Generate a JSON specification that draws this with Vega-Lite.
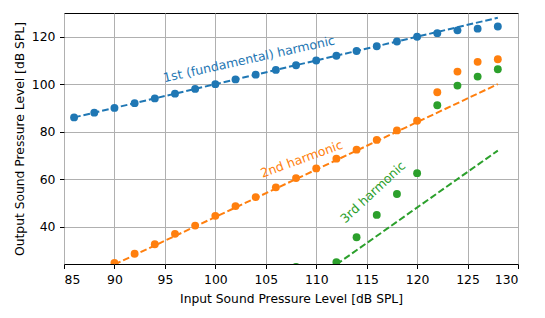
{
  "$schema": "https://vega.github.io/schema/vega-lite/v6.json",
  "width": 454,
  "height": 251,
  "autosize": {"type": "none"},
  "padding": {"left": 64, "top": 13, "right": 27, "bottom": 54},
  "config": {
    "font": "DejaVu Sans",
    "view": {"stroke": "black", "strokeWidth": 1},
    "axis": {
      "domain": false,
      "grid": true,
      "gridColor": "#b0b0b0",
      "gridWidth": 1,
      "tickColor": "black",
      "tickSize": 4.5,
      "tickWidth": 1,
      "labelPadding": 4.5,
      "labelFontSize": 12.4,
      "labelColor": "black",
      "titleFontSize": 12.3,
      "titleFontWeight": "normal",
      "titleColor": "black"
    }
  },
  "datasets": {
    "points": [
      {"input": 86, "output": 86, "harmonic": "1st"},
      {"input": 88, "output": 88, "harmonic": "1st"},
      {"input": 90, "output": 90, "harmonic": "1st"},
      {"input": 92, "output": 92, "harmonic": "1st"},
      {"input": 94, "output": 94, "harmonic": "1st"},
      {"input": 96, "output": 96, "harmonic": "1st"},
      {"input": 98, "output": 98, "harmonic": "1st"},
      {"input": 100, "output": 100, "harmonic": "1st"},
      {"input": 102, "output": 102, "harmonic": "1st"},
      {"input": 104, "output": 104, "harmonic": "1st"},
      {"input": 106, "output": 106, "harmonic": "1st"},
      {"input": 108, "output": 108, "harmonic": "1st"},
      {"input": 110, "output": 110, "harmonic": "1st"},
      {"input": 112, "output": 112, "harmonic": "1st"},
      {"input": 114, "output": 114, "harmonic": "1st"},
      {"input": 116, "output": 116, "harmonic": "1st"},
      {"input": 118, "output": 118, "harmonic": "1st"},
      {"input": 120, "output": 120, "harmonic": "1st"},
      {"input": 122, "output": 121.5, "harmonic": "1st"},
      {"input": 124, "output": 122.7, "harmonic": "1st"},
      {"input": 126, "output": 123.4, "harmonic": "1st"},
      {"input": 128, "output": 124.3, "harmonic": "1st"},
      {"input": 90, "output": 24.7, "harmonic": "2nd"},
      {"input": 92, "output": 28.5, "harmonic": "2nd"},
      {"input": 94, "output": 32.5, "harmonic": "2nd"},
      {"input": 96, "output": 36.9, "harmonic": "2nd"},
      {"input": 98, "output": 40.4, "harmonic": "2nd"},
      {"input": 100, "output": 44.5, "harmonic": "2nd"},
      {"input": 102, "output": 48.6, "harmonic": "2nd"},
      {"input": 104, "output": 52.4, "harmonic": "2nd"},
      {"input": 106, "output": 56.5, "harmonic": "2nd"},
      {"input": 108, "output": 60.4, "harmonic": "2nd"},
      {"input": 110, "output": 64.5, "harmonic": "2nd"},
      {"input": 112, "output": 68.6, "harmonic": "2nd"},
      {"input": 114, "output": 72.4, "harmonic": "2nd"},
      {"input": 116, "output": 76.5, "harmonic": "2nd"},
      {"input": 118, "output": 80.5, "harmonic": "2nd"},
      {"input": 120, "output": 84.6, "harmonic": "2nd"},
      {"input": 122, "output": 96.6, "harmonic": "2nd"},
      {"input": 124, "output": 105.3, "harmonic": "2nd"},
      {"input": 126, "output": 109.4, "harmonic": "2nd"},
      {"input": 128, "output": 110.5, "harmonic": "2nd"},
      {"input": 106, "output": 22.5, "harmonic": "3rd"},
      {"input": 108, "output": 23.0, "harmonic": "3rd"},
      {"input": 112, "output": 25.0, "harmonic": "3rd"},
      {"input": 114, "output": 35.5, "harmonic": "3rd"},
      {"input": 116, "output": 44.9, "harmonic": "3rd"},
      {"input": 118, "output": 53.7, "harmonic": "3rd"},
      {"input": 120, "output": 62.5, "harmonic": "3rd"},
      {"input": 122, "output": 91.1, "harmonic": "3rd"},
      {"input": 124, "output": 99.4, "harmonic": "3rd"},
      {"input": 126, "output": 103.2, "harmonic": "3rd"},
      {"input": 128, "output": 106.3, "harmonic": "3rd"}
    ],
    "fits": [
      {"input": 86, "output": 86, "harmonic": "1st"},
      {"input": 128, "output": 128, "harmonic": "1st"},
      {"input": 90, "output": 24, "harmonic": "2nd"},
      {"input": 128, "output": 100, "harmonic": "2nd"},
      {"input": 112, "output": 24, "harmonic": "3rd"},
      {"input": 128, "output": 72, "harmonic": "3rd"}
    ]
  },
  "encoding": {
    "x": {
      "field": "input", "type": "quantitative",
      "scale": {"domain": [85, 130], "nice": false, "zero": false},
      "axis": {"values": [85, 90, 95, 100, 105, 110, 115, 120, 125, 130], "title": "Input Sound Pressure Level [dB SPL]", "titlePadding": 7}
    },
    "y": {
      "field": "output", "type": "quantitative",
      "scale": {"domain": [24.2, 130], "nice": false, "zero": false},
      "axis": {"values": [40, 60, 80, 100, 120], "title": "Output Sound Pressure Level [dB SPL]", "titlePadding": 5}
    },
    "color": {
      "field": "harmonic", "type": "nominal",
      "scale": {"domain": ["1st", "2nd", "3rd"], "range": ["#1f77b4", "#ff7f0e", "#2ca02c"]},
      "legend": null
    }
  },
  "layer": [
    {
      "data": {"name": "fits"},
      "mark": {"type": "line", "clip": true, "strokeWidth": 2, "strokeDash": [6.7, 2.9]},
      "encoding": {"detail": {"field": "harmonic"}}
    },
    {
      "data": {"name": "points"},
      "mark": {"type": "point", "filled": true, "opacity": 1, "size": 62, "clip": true}
    },
    {
      "data": {"values": [{"input": 103.43, "output": 108.8, "label": "1st (fundamental) harmonic", "harmonic": "1st"}]},
      "mark": {"type": "text", "angle": 347.5, "align": "center", "baseline": "alphabetic", "fontSize": 12.5},
      "encoding": {"text": {"field": "label"}}
    },
    {
      "data": {"values": [{"input": 108.69, "output": 66.76, "label": "2nd harmonic", "harmonic": "2nd"}]},
      "mark": {"type": "text", "angle": 340, "align": "center", "baseline": "alphabetic", "fontSize": 12.5},
      "encoding": {"text": {"field": "label"}}
    },
    {
      "data": {"values": [{"input": 115.9, "output": 53.2, "label": "3rd harmonic", "harmonic": "3rd"}]},
      "mark": {"type": "text", "angle": 317, "align": "center", "baseline": "alphabetic", "fontSize": 12.5},
      "encoding": {"text": {"field": "label"}}
    }
  ]
}
